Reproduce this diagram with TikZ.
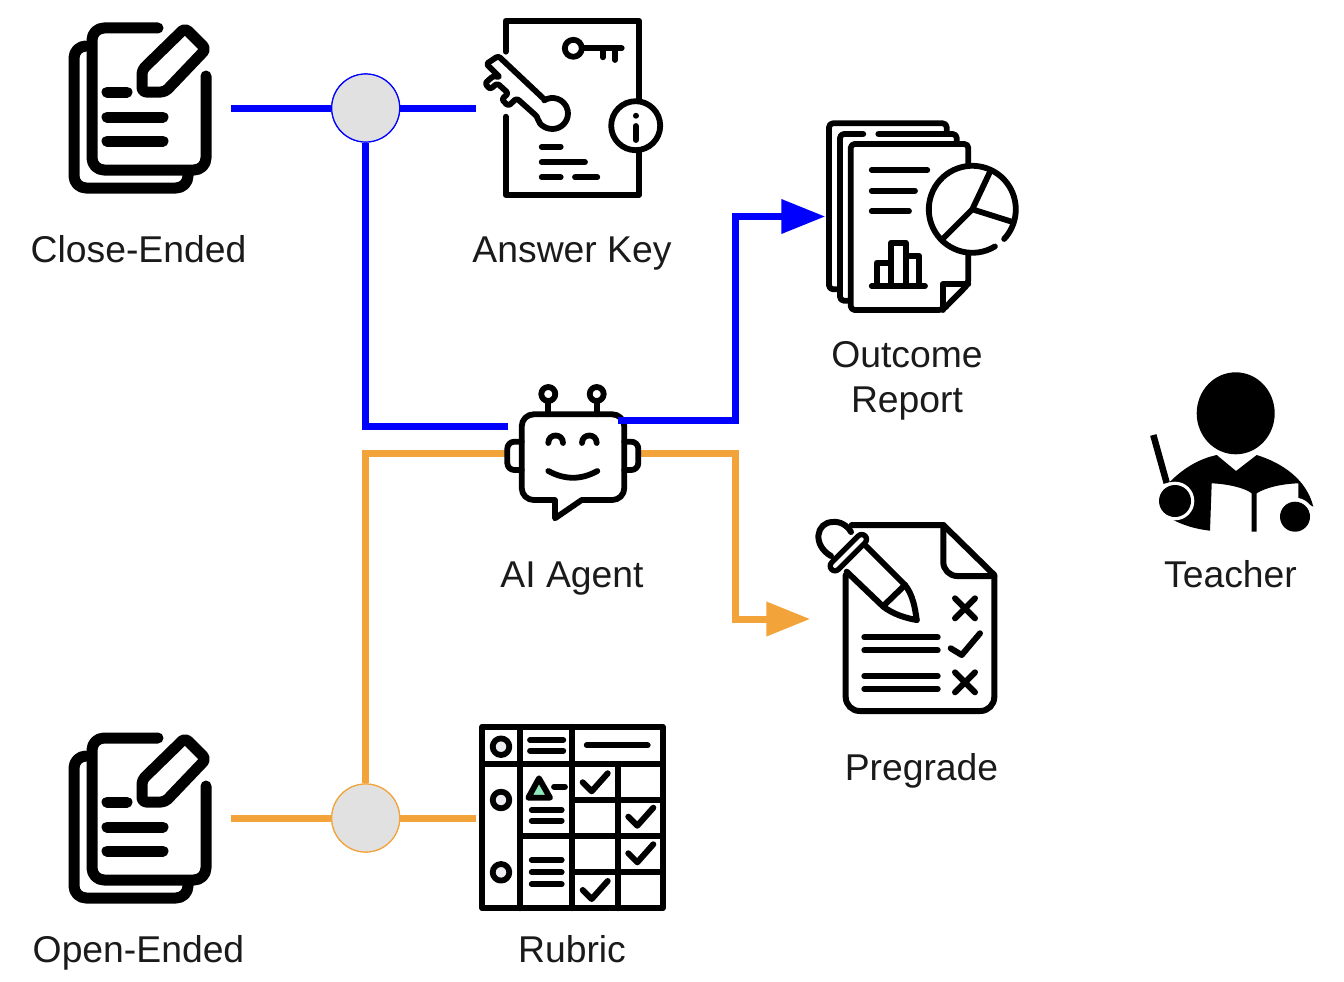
\documentclass[tikz,border=0pt]{standalone}
\usepackage{fontspec}
\setmainfont{Liberation Sans}
\usetikzlibrary{arrows.meta}
\definecolor{wireblue}{HTML}{0000FF}
\definecolor{wireorange}{HTML}{F2A33A}
\definecolor{hubgray}{HTML}{E1E1E1}
\definecolor{mint}{HTML}{8FE8BE}
\definecolor{dotgray}{HTML}{ECEDF0}
\definecolor{inkgray}{HTML}{1A1A1A}
\tikzset{
  iconline/.style={line width=#1, line cap=round, line join=round},
  iconline/.default=5.8pt,
  iconbox/.style={inner sep=0pt, minimum width=#1},
  caption/.style={font=\fontsize{37.3}{45}\selectfont, text=inkgray, inner sep=0pt, anchor=base},
  wire/.style={line width=7pt},
  hub/.style={circle, fill=hubgray, line width=1.2pt, minimum size=68pt, inner sep=0pt},
  wiretip/.style={-{Triangle[length=44pt,width=33pt]}},
  docstack/.pic={
    \draw[iconline=11pt, rounded corners=12pt] (158,28) -- (92,28) -- (92,170) -- (206,170) -- (206,76);
    \draw[iconline=11pt, rounded corners=12pt] (86,46) -- (74,46) -- (74,188) -- (188,188) -- (188,175);
    \draw[iconline=11pt, rounded corners=4pt] (142,70) -- (142,92) -- (165,92) -- (206,49) -- (185,28) -- cycle;
    \draw[iconline=11pt] (107,92) -- (127,92) (107,117) -- (163,117) (107,141) -- (163,141);
  },
  tick/.pic={\draw[iconline=6pt] (0,0) -- (9,9) -- (25,-9);}
}
\begin{document}
\begin{tikzpicture}[x=1pt, y=-1pt]
  \useasboundingbox (0,0) rectangle (1344,982);

  % places that the wires run between
  \node[iconbox=182pt, minimum height=180pt] (closeended) at (140,108) {};
  \node[iconbox=188pt, minimum height=190pt] (answerkey) at (570,108) {};
  \node[iconbox=182pt, minimum height=180pt] (openended) at (140,818) {};
  \node[iconbox=190pt, minimum height=190pt] (rubric) at (571,818) {};
  \node[iconbox=195pt, minimum height=192pt] (report) at (923,216.5) {};
  \node[iconbox=188pt, minimum height=200pt] (pregrade) at (904.5,619) {};
  \node[iconbox=135pt, minimum height=135pt] (agent) at (572.5,453) {};
  \node[hub, draw=wireblue] (keyhub) at (365.7,108) {};
  \node[hub, draw=wireorange] (rubrichub) at (365.7,818) {};
  \coordinate (bluein) at (508,426);
  \coordinate (blueout) at (618,420);
  \coordinate (bluebend) at (735,420);
  \coordinate (orangebend) at (735,453);

  % wires
  \draw[wire, wireblue] (closeended.east) -- (keyhub);
  \draw[wire, wireblue] (keyhub) -- (answerkey.west);
  \draw[wire, wireblue] (keyhub) |- (bluein);
  \draw[wire, wireorange] (openended.east) -- (rubrichub);
  \draw[wire, wireorange] (rubrichub) -- (rubric.west);
  \draw[wire, wireorange] (rubrichub) |- (agent.west);
  \draw[wire, wireorange, wiretip] (agent.east) -- (orangebend) |- (pregrade.west);
  \node[hub, draw=wireblue] at (keyhub) {};
  \node[hub, draw=wireorange] at (rubrichub) {};

  % close-ended and open-ended
  \pic at (0,0) {docstack};
  \pic at (0,710) {docstack};

  % answer key
  \draw[iconline] (505.7,51.7) -- (505.7,20.7) -- (639,20.7) -- (639,100);
  \draw[iconline] (639,152) -- (639,195) -- (505.7,195) -- (505.7,116.7);
  \draw[iconline] (573.3,48.3) circle (8.5);
  \draw[iconline] (581.7,48.3) -- (621.7,48.3) (602.7,48.3) -- (602.7,57.3) (615,48.3) -- (615,60);
  \draw[iconline, rounded corners=2.5pt] (545,100) -- (498.3,56) -- (486.3,64) -- (500,77.3) -- (493.3,76) -- (485,83.3) -- (490,89.3) -- (497.3,83.3) -- (508.3,93.3) -- (501.7,99.3) -- (508.3,106) -- (516.7,98.3) -- (537.3,116.7)
    arc[start angle=168, end angle=-122, radius=15.5];
  \draw[iconline] (635.7,125.7) circle (24.5);
  \draw[iconline] (635.7,115.7) -- (635.7,115.8) (635.7,126) -- (635.7,140);
  \draw[iconline] (541.7,146.7) -- (560.7,146.7) (541.7,162.3) -- (585,162.3) (541.7,177.3) -- (560.7,177.3) (575,177.3) -- (597.3,177.3);

  % outcome report
  \draw[iconline, rounded corners=4pt] (946.7,131.7) -- (946.7,123.3) -- (829,123.3) -- (829,289.3) -- (838.3,289.3);
  \draw[iconline, rounded corners=4pt] (863.3,134) -- (840,134) -- (840,300.7) -- (850,300.7);
  \draw[iconline, rounded corners=4pt] (878.3,134) -- (956.7,134) -- (956.7,143.3);
  \draw[iconline, rounded corners=4pt] (968.3,163.3) -- (968.3,144) -- (850.7,144) -- (850.7,310) -- (942.7,310) -- (968.3,284) -- (968.3,255);
  \draw[iconline] (942.7,310) -- (942.7,284) -- (968.3,284);
  \draw[iconline] (871.7,170) -- (927.3,170) (871.7,190.7) -- (915,190.7) (871.7,211.3) -- (909,211.3);
  \draw[iconline] (871.7,286) -- (925,286);
  \draw[iconline] (876.7,286) -- (876.7,262.7) -- (891,262.7);
  \draw[iconline] (891,286) -- (891,242.7) -- (905.7,242.7) -- (905.7,286);
  \draw[iconline] (905.7,255.7) -- (919.3,255.7) -- (919.3,286);
  \draw[iconline] (972.3,209.3) ++(58.7:43.5) arc[start angle=58.7, end angle=403, radius=43.5];
  \draw[iconline] (989.3,173.3) -- (972.3,209.3) -- (1011.7,221.7) (972.3,209.3) -- (943.3,238.3);

  % ai agent
  \draw[iconline] (555,518.3) -- (555,500) [rounded corners=12pt] -- (521.7,500) -- (521.7,414.3) -- (624.3,414.3) -- (624.3,500) [sharp corners] -- (581.7,500) -- cycle;
  \draw[iconline, rounded corners=7pt] (521.7,441.7) -- (507.3,441.7) -- (507.3,470) -- (521.7,470);
  \draw[iconline, rounded corners=7pt] (624.3,441.7) -- (638.3,441.7) -- (638.3,470) -- (624.3,470);
  \draw[iconline] (548.3,394) circle (7) (596.7,394) circle (7);
  \draw[iconline] (548.3,401) -- (548.3,414.3) (596.7,401) -- (596.7,414.3);
  \draw[iconline] (548.3,443) .. controls (548.3,433) and (563,433) .. (563,443);
  \draw[iconline] (582,443) .. controls (582,433) and (596.7,433) .. (596.7,443);
  \draw[iconline] (548.3,471) .. controls (565,480) and (581,480) .. (597.3,471);
  \draw[wire, wireblue] (blueout) -- (bluebend) [wiretip] |- (report.west);

  % pregrade
  \draw[iconline=6pt] (851.7,525) -- (943.3,525) -- (994.3,575) [rounded corners=14pt] -- (994.3,711) -- (845.7,711) -- (845.7,575);
  \draw[iconline=6pt] (943.3,525) [rounded corners=14pt] -- (943.3,576) -- (994.3,576);
  \draw[iconline=15pt] (835,566) -- (861.7,539.3);
  \draw[line width=4pt, line cap=round, white] (835,566) -- (861.7,539.3);
  \draw[iconline=6pt] (831,556) .. controls (812,545) and (816,522) .. (833,522) .. controls (840,521) and (848,526) .. (851,532);
  \draw[iconline=6pt] (846.7,571.7) -- (883.3,606.7) .. controls (893,614) and (905,618) .. (916.7,620);
  \draw[iconline=6pt] (866.7,546.7) -- (905,585) .. controls (913,595) and (915,608) .. (916.7,620);
  \draw[iconline=6pt] (883.3,606) -- (905,585);
  \draw[iconline=6pt] (955,598.3) -- (975,618.3) (975,598.3) -- (955,618.3);
  \draw[iconline=6pt] (955,672.3) -- (975,692.3) (975,672.3) -- (955,692.3);
  \draw[iconline=6pt] (950.7,648.3) -- (961.7,655) -- (980,633.3);
  \draw[iconline=6pt] (864.3,637.3) -- (937.7,637.3) (864.3,650.3) -- (937.7,650.3) (864.3,676) -- (937.7,676) (864.3,689) -- (937.7,689);

  % rubric
  \draw[iconline] (482.3,726.7) rectangle (662.7,908.3);
  \draw[iconline] (520,726.7) -- (520,908.3) (572.3,726.7) -- (572.3,908.3) (482.3,764.3) -- (662.7,764.3);
  \draw[iconline] (617.7,764.3) -- (617.7,908.3) (520,836) -- (662.7,836) (572.3,800) -- (662.7,800) (572.3,872.3) -- (662.7,872.3);
  \foreach \y in {746.7,800,872.3} {
    \draw[iconline, fill=dotgray] (501,\y) circle (8.3);
  }
  \draw[iconline] (530,740) -- (563.3,740) (530,750.7) -- (563.3,750.7) (586.7,745.3) -- (647.7,745.3);
  \draw[iconline, fill=mint] (539,778.3) -- (528.3,797.7) -- (550,797.7) -- cycle;
  \draw[iconline] (554,786.7) -- (565,786.7) (531.7,810) -- (561.7,810) (531.7,820.7) -- (561.7,820.7);
  \draw[iconline] (531.7,860) -- (561.7,860) (531.7,872.3) -- (561.7,872.3) (531.7,884.3) -- (561.7,884.3);
  \pic at (582.7,782.3) {tick};
  \pic at (628.3,816.7) {tick};
  \pic at (628.3,853.3) {tick};
  \pic at (582.7,890) {tick};

  % teacher
  \fill (1235.7,413.3) ellipse [x radius=39, y radius=41];
  \draw[line width=6.5pt] (1153.3,435) -- (1166.7,483);
  \fill (1170,481.7) .. controls (1186.7,465) and (1203,458) .. (1216.7,455) -- (1236,471) -- (1256.7,455)
    .. controls (1283.3,463.3) and (1306.7,480) .. (1313.3,506.7) -- (1298.3,498.3) -- (1298.3,483.3)
    .. controls (1280,484) and (1265,488) .. (1256.7,493.3) -- (1256.7,531.7) -- (1251.7,531.7) -- (1251.7,493.3)
    .. controls (1245,488) and (1228,484) .. (1211.7,483.3) -- (1210,530.7)
    .. controls (1195,529) and (1183,525) .. (1173.3,520) -- cycle;
  \fill[white] (1175,501) circle (19.3) (1295,516.7) circle (19);
  \fill (1175,501) circle (16) (1295,516.7) circle (15);

  % captions
  \node[caption] (closelabel) at (138.5,262) {Close-Ended};
  \node[caption] (keylabel) at (572,262) {Answer Key};
  \node[caption, anchor=center, align=center] (reportlabel) at (907,380.5) {Outcome\\Report};
  \node[caption] (agentlabel) at (572,587) {AI Agent};
  \node[caption] (teacherlabel) at (1230.5,587) {Teacher};
  \node[caption] (pregradelabel) at (921.5,780) {Pregrade};
  \node[caption] (openlabel) at (138.5,962) {Open-Ended};
  \node[caption] (rubriclabel) at (572,962) {Rubric};
\end{tikzpicture}
\end{document}
